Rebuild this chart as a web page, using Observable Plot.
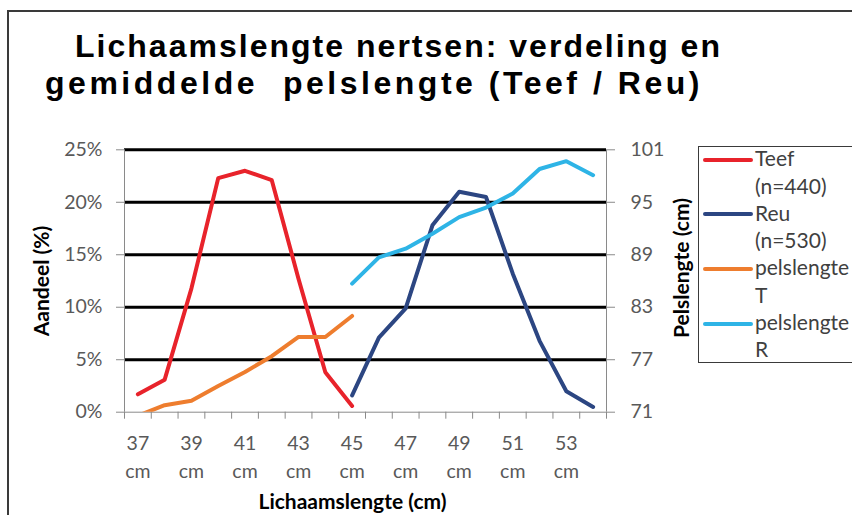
<!DOCTYPE html>
<html>
<head>
<meta charset="utf-8">
<script src="https://cdn.jsdelivr.net/npm/d3@7"></script>
<script src="https://cdn.jsdelivr.net/npm/@observablehq/plot@0.6"></script>
<style>
  html, body { margin: 0; padding: 0; background: #fff; }
  #wrap { position: relative; width: 852px; height: 515px; overflow: hidden; background: #fff; font-family: Lato, "Open Sans", sans-serif; }
  #frame { position: absolute; left: 7px; top: 10px; width: 900px; height: 600px; border-left: 2px solid #3a3a3a; border-top: 2px solid #3a3a3a; }
  #title { position: absolute; left: 45px; top: 20px; white-space: pre; font-family: "Liberation Sans", Arial, sans-serif; font-weight: bold; color: #000; font-size: 31.5px; line-height: 37.3px; }
  #title .ln { font-size: 31.5px; line-height: 37.3px; }
  #title .mk { display: inline-block; width: 0; height: 0; }
  #plot { position: absolute; left: 0; top: 130px; }
  #legend { position: absolute; left: 698px; top: 146px; width: 220px; height: 215px; border: 1.5px solid #3a3a3a; background: #fff; }
  .lg-entry { position: absolute; left: 56px; font-size: 21px; line-height: 27.3px; color: #404040; white-space: pre; }
  .lg-swatch { position: absolute; left: 4px; width: 50px; height: 4px; border-radius: 2px; }
</style>
</head>
<body>
<div id="wrap">
  <div id="frame"></div>
  <div id="title"><span class="ln" id="title1">Lichaamslengte nertsen: verdeling en</span><span class="mk" id="mk1"></span>
<span class="ln" id="title2">gemiddelde  pelslengte (Teef / Reu)</span><span class="mk" id="mk2"></span></div>
  <div id="plot"></div>
  <div id="legend"></div>
</div>
<script>
// ---- data ----
const lengths = [37, 38, 39, 40, 41, 42, 43, 44, 45, 46, 47, 48, 49, 50, 51, 52, 53, 54];
const teefLengths = [37, 38, 39, 40, 41, 42, 43, 44, 45];
const teefShare = [1.7, 3.1, 11.8, 22.3, 23.0, 22.1, 12.7, 3.8, 0.6];       // Aandeel (%)
const reuLengths = [45, 46, 47, 48, 49, 50, 51, 52, 53, 54];
const reuShare = [1.6, 7.1, 9.9, 17.8, 21.0, 20.5, 13.2, 6.8, 2.0, 0.5];    // Aandeel (%)
const pelsT = [70.6, 71.8, 72.3, 74.0, 75.6, 77.4, 79.6, 79.6, 82.0];        // Pelslengte (cm), Teef
const pelsR = [85.7, 88.7, 89.7, 91.4, 93.3, 94.4, 96.0, 98.8, 99.7, 98.1];  // Pelslengte (cm), Reu
const xTickValues = [37, 39, 41, 43, 45, 47, 49, 51, 53];
const xTickUnit = "cm";
const leftTicks = [0, 5, 10, 15, 20, 25];
const rightTicks = [71, 77, 83, 89, 95, 101];
const seriesNames = ["Teef\n(n=440)", "Reu\n(n=530)", "pelslengte\nT", "pelslengte\nR"];
const seriesColors = ["#E8232B", "#2C4682", "#EE7D2E", "#2EB4E6"];

// ---- dual axis mapping: right axis (71..101) onto left axis (0..25) ----
const rMin = rightTicks[0], rMax = rightTicks[rightTicks.length - 1];
const lMax = leftTicks[leftTicks.length - 1];
const toLeft = v => (v - rMin) / (rMax - rMin) * lMax;
const fromLeft = y => Math.round(rMin + y / lMax * (rMax - rMin));

const teefData = teefLengths.map((x, i) => ({x, y: teefShare[i]}));
const reuData = reuLengths.map((x, i) => ({x, y: reuShare[i]}));
const pelsTData = teefLengths.map((x, i) => ({x, y: toLeft(pelsT[i])}));
const pelsRData = reuLengths.map((x, i) => ({x, y: toLeft(pelsR[i])}));
const bounds = d3.range(lengths[0] - 0.5, lengths[lengths.length - 1] + 1, 1);

const gray = "#8a8a8a";
const textGray = "#595959";
const fs = 19.5;
const titleFs = 21;
const lineOpts = (c) => ({x: "x", y: "y", stroke: c, strokeWidth: 4, strokeLinejoin: "round", strokeLinecap: "round", clip: true});

const chart = Plot.plot({
  width: 852,
  height: 385,
  marginLeft: 124,
  marginRight: 246,
  marginTop: 19.3,
  marginBottom: 103.3,
  style: {fontFamily: "Lato, 'Open Sans', sans-serif", fontSize: fs + "px", color: textGray, background: "transparent"},
  x: {type: "linear", domain: [bounds[0], bounds[bounds.length - 1]]},
  y: {domain: [0, lMax]},
  marks: [
    Plot.ruleY(leftTicks.filter(d => d > 0), {stroke: "#000", strokeWidth: 3}),
    Plot.ruleY([0], {stroke: gray, strokeWidth: 1}),
    Plot.ruleX([bounds[0], bounds[bounds.length - 1]], {stroke: gray, strokeWidth: 1}),
    Plot.axisY({ticks: leftTicks, tickFormat: d => d + "%", tickSize: 8, tickPadding: 14, stroke: gray, fill: textGray, label: null, fontSize: fs}),
    Plot.axisY({anchor: "right", ticks: rightTicks.map(toLeft), tickFormat: d => String(fromLeft(d)), tickSize: 8, tickPadding: 16, stroke: gray, fill: textGray, label: null, fontSize: fs}),
    Plot.axisX({ticks: bounds, tickFormat: () => "", tickSize: 7, stroke: gray, label: null}),
    Plot.text(xTickValues, {x: d => d, text: d => `${d}\n${xTickUnit}`, frameAnchor: "bottom", lineAnchor: "top", dy: 18, lineHeight: 1.42, fill: textGray, fontSize: fs}),
    Plot.line(teefData, lineOpts(seriesColors[0])),
    Plot.line(reuData, lineOpts(seriesColors[1])),
    Plot.line(pelsTData, lineOpts(seriesColors[2])),
    Plot.line(pelsRData, lineOpts(seriesColors[3])),
    Plot.text(["Aandeel (%)"], {text: d => d, frameAnchor: "left", textAnchor: "middle", lineAnchor: "middle", rotate: -90, dx: -82, fontWeight: "bold", fontSize: titleFs, fill: "#000"}),
    Plot.text(["Pelslengte (cm)"], {text: d => d, frameAnchor: "right", textAnchor: "middle", lineAnchor: "middle", rotate: -90, dx: 76, dy: -13, fontWeight: "bold", fontSize: titleFs, fill: "#000"}),
    Plot.text(["Lichaamslengte (cm)"], {text: d => d, frameAnchor: "bottom", textAnchor: "middle", lineAnchor: "middle", dx: -13, dy: 90, fontWeight: "bold", fontSize: titleFs, fill: "#000"})
  ]
});
document.getElementById("plot").appendChild(chart);

// ---- legend ----
const legend = document.getElementById("legend");
seriesNames.forEach((name, i) => {
  const top = -2.8 + i * 54.6;
  const sw = document.createElement("div");
  sw.className = "lg-swatch";
  sw.style.top = (top + 13.5) + "px";
  sw.style.background = seriesColors[i];
  legend.appendChild(sw);
  const t = document.createElement("div");
  t.className = "lg-entry";
  t.style.top = top + "px";
  t.textContent = name;
  legend.appendChild(t);
});

// ---- title (one text block, two lines): fit each line's width, then align the baseline ----
const titleEl = document.getElementById("title");
function fitLine(id, targetWidth) {
  const el = document.getElementById(id);
  let size = parseFloat(getComputedStyle(el).fontSize);
  el.style.letterSpacing = "0px";
  const w0 = el.getBoundingClientRect().width;
  size = Math.max(28, Math.min(32, size * targetWidth / w0));
  el.style.fontSize = size + "px";
  const w1 = el.getBoundingClientRect().width;
  el.style.letterSpacing = ((targetWidth - w1) / el.textContent.length) + "px";
  return el;
}
const t1 = fitLine("title1", 647);
fitLine("title2", 658);
t1.style.marginLeft = (75 - 45) + "px";
const wrapTop = document.getElementById("wrap").getBoundingClientRect().top;
const base1 = document.getElementById("mk1").getBoundingClientRect().bottom - wrapTop;
titleEl.style.top = (20 + 56.7 - base1) + "px";
</script>
</body>
</html>
